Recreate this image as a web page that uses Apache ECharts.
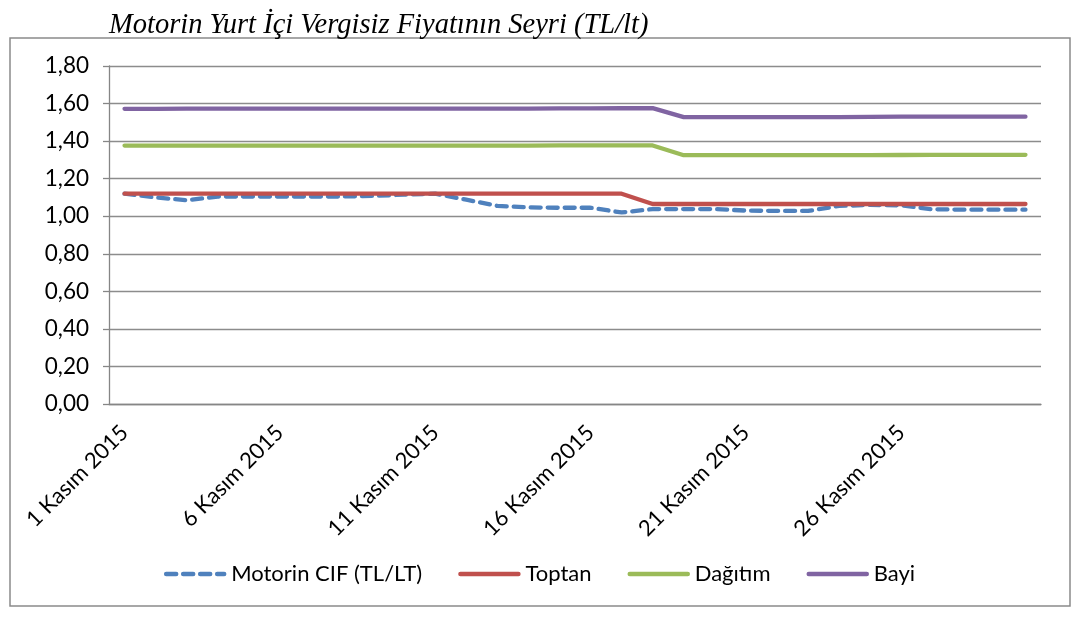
<!DOCTYPE html>
<html>
<head>
<meta charset="utf-8">
<script src="https://cdn.jsdelivr.net/npm/echarts@6/dist/echarts.min.js"></script>
<style>html,body{margin:0;padding:0;background:#fff}#c{width:1079px;height:617px}</style>
</head>
<body>
<div id="c"></div>
<script>
const days = [];
for (let d = 1; d <= 30; d++) days.push(d + ' Kasım 2015');

const cif = [1.12, 1.10, 1.085, 1.105, 1.105, 1.105, 1.105, 1.105, 1.108, 1.115,
             1.12, 1.088, 1.055, 1.047, 1.045, 1.045, 1.02, 1.038, 1.038, 1.038,
             1.03, 1.028, 1.028, 1.055, 1.06, 1.058, 1.037, 1.035, 1.035, 1.035];
const toptan = [1.12, 1.12, 1.12, 1.12, 1.12, 1.12, 1.12, 1.12, 1.12, 1.12,
                1.12, 1.12, 1.12, 1.12, 1.12, 1.12, 1.12, 1.065, 1.065, 1.065,
                1.065, 1.065, 1.065, 1.065, 1.065, 1.065, 1.065, 1.065, 1.065, 1.065];
const dagitim = [1.376, 1.376, 1.376, 1.376, 1.376, 1.376, 1.376, 1.376, 1.376, 1.376,
                 1.376, 1.376, 1.376, 1.376, 1.377, 1.377, 1.377, 1.377, 1.325, 1.325,
                 1.325, 1.325, 1.325, 1.325, 1.325, 1.326, 1.327, 1.327, 1.327, 1.327];
const bayi = [1.572, 1.572, 1.573, 1.573, 1.573, 1.573, 1.573, 1.573, 1.573, 1.573,
              1.573, 1.573, 1.573, 1.573, 1.574, 1.574, 1.575, 1.576, 1.528, 1.528,
              1.528, 1.528, 1.528, 1.528, 1.529, 1.530, 1.530, 1.530, 1.530, 1.530];
const yTicks = [0, 0.2, 0.4, 0.6, 0.8, 1.0, 1.2, 1.4, 1.6, 1.8];

const seriesNames = ['Motorin CIF (TL/LT)', 'Toptan', 'Dağıtım', 'Bayi'];
const colors = ['#4f81bd', '#c0504d', '#9bbb59', '#8064a2'];
const dataSets = [cif, toptan, dagitim, bayi];

const chart = echarts.init(document.getElementById('c'));
const font = 'Lato, "Open Sans", sans-serif';
chart.setOption({
  animation: false,
  backgroundColor: '#fff',
  title: {
    text: 'Motorin Yurt İçi Vergisiz Fiyatının Seyri (TL/lt)',
    left: 104, top: 6,
    textStyle: { fontFamily: '"Liberation Serif", serif', fontStyle: 'italic', fontWeight: 'normal', fontSize: 28.5, color: '#000' }
  },
  graphic: [{
    type: 'rect', shape: { x: 10, y: 38, width: 1060, height: 568 },
    style: { fill: 'none', stroke: '#8a8a8a', lineWidth: 1.5 }, silent: true, z: -1
  }],
  legend: {
    bottom: 27, left: 'center',
    itemWidth: 58, itemHeight: 14, itemGap: 36,
    itemStyle: { color: 'transparent', borderWidth: 0, opacity: 0 },
    lineStyle: { width: 4.5, cap: 'round' },
    textStyle: { fontFamily: font, fontSize: 22, color: '#000', padding: [0, 0, 0, 2] },
    data: seriesNames
  },
  grid: { left: 109, right: 38, top: 66, bottom: 213 },
  xAxis: {
    type: 'category', boundaryGap: true, data: days,
    axisLine: { lineStyle: { color: '#868686', width: 1.3 } },
    axisTick: { interval: 4, length: 6, lineStyle: { color: '#868686', width: 1.3 } },
    axisLabel: { interval: 4, rotate: 45, margin: 25, fontFamily: font, fontSize: 22, color: '#000' },
    splitLine: { show: false }
  },
  yAxis: {
    type: 'value', min: 0, max: 1.8, interval: 0.2,
    axisLine: { show: true, lineStyle: { color: '#868686', width: 1.3 } },
    axisTick: { show: true, length: 6, lineStyle: { color: '#868686', width: 1.3 } },
    axisLabel: { margin: 20, fontFamily: font, fontSize: 22.5, color: '#000',
      formatter: v => v.toFixed(2).replace('.', ',') },
    splitLine: { lineStyle: { color: '#8c8c8c', width: 1.3 } }
  },
  series: dataSets.map((d, i) => ({
    name: seriesNames[i], type: 'line', data: d,
    symbol: 'none', smooth: false,
    color: colors[i],
    lineStyle: { color: colors[i], width: 4.3, cap: 'round', join: 'round',
      type: i === 0 ? [10, 7] : 'solid' }
  }))
});
</script>
</body>
</html>
